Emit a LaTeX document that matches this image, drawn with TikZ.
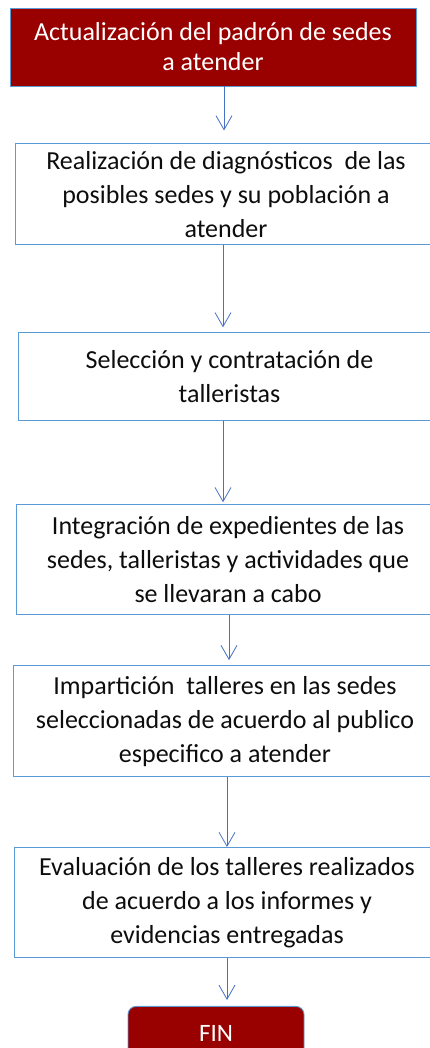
\documentclass[tikz,border=0pt]{standalone}
\usepackage{fontspec}
\setmainfont{Carlito}
\usetikzlibrary{positioning,arrows.meta}
\definecolor{rojo}{HTML}{990000}
\definecolor{borde}{HTML}{5B9BD5}
\definecolor{azulflecha}{HTML}{4472C4}
\definecolor{texto}{HTML}{0D0D0D}
\tikzset{
  paso/.style={draw=borde, line width=0.9pt, align=center, inner sep=0pt, text=texto,
    font=\fontsize{26}{34}\selectfont},
  inicio/.style={paso, fill=rojo, text=white, font=\fontsize{26}{30}\selectfont},
  final/.style={draw=borde, line width=0.9pt, fill=rojo, text=white, rounded corners=8pt,
    font=\fontsize{25}{30}\selectfont},
  flecha/.style={draw=azulflecha, line width=0.8pt, -{Straight Barb[length=14pt,width=16pt]}}
}
\begin{document}
\begin{tikzpicture}[x=1pt,y=1pt]
  \useasboundingbox (0,0) rectangle (430,-1048);
  \clip (0,0) rectangle (430,-1048);

  \node[inicio, minimum width=406pt, minimum height=78pt] (act) at (213,-47)
    {Actualización del padrón de sedes\\a atender};
  \node[paso, minimum width=422pt, minimum height=101pt, below=57pt of act, xshift=13pt] (diag)
    {Realización de diagnósticos\ \ de las\\posibles sedes y su población a\\atender};
  \node[paso, minimum width=423pt, minimum height=88pt, below=87pt of diag, xshift=3.5pt] (sel)
    {Selección y contratación de\\talleristas};
  \node[paso, minimum width=424pt, minimum height=110pt, below=83pt of sel, xshift=-1.5pt] (integ)
    {Integración de expedientes de las\\sedes, talleristas y actividades que\\se llevaran a cabo};
  \node[paso, minimum width=424pt, minimum height=111pt, below=50pt of integ, xshift=-3pt] (imp)
    {Impartición\ \ talleres en las sedes\\seleccionadas de acuerdo al publico\\especifico a atender};
  \node[paso, minimum width=426pt, minimum height=110pt, below=70pt of imp, xshift=2pt] (eval)
    {Evaluación de los talleres realizados\\de acuerdo a los informes y\\evidencias entregadas};
  \node[final, minimum width=176pt, minimum height=54pt, below=48pt of eval, xshift=-11pt] (fin) {FIN};

  % flechas entre pasos
  \foreach \a/\b/\x/\s in {act/diag/224/13, diag/sel/223/5, sel/integ/223/2,
                           integ/imp/229/5, imp/eval/227/0, eval/fin/227/6}
    \draw[flecha, shorten >=\s pt] (\x,0 |- \a.south) -- (\x,0 |- \b.north);
\end{tikzpicture}
\end{document}
